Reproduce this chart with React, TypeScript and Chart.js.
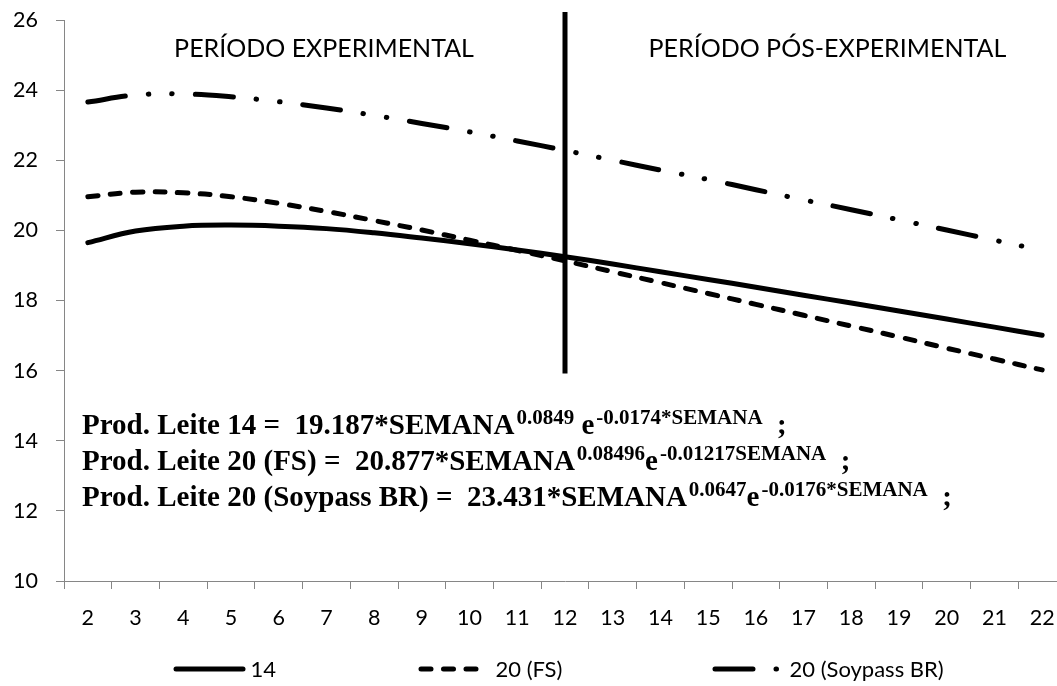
import React, { useEffect, useRef } from 'react';
import { Chart, registerables } from 'chart.js';

Chart.register(...registerables);

// ---- data ----
const WEEKS = ['2', '3', '4', '5', '6', '7', '8', '9', '10', '11', '12', '13', '14', '15', '16', '17', '18', '19', '20', '21', '22'];
const Y_TICKS = [10, 12, 14, 16, 18, 20, 22, 24, 26];

const PROD_14 = [19.65, 19.98, 20.12, 20.15, 20.12, 20.05, 19.93, 19.78, 19.62, 19.44, 19.25, 19.04, 18.82, 18.6, 18.38, 18.15, 17.93, 17.7, 17.47, 17.24, 17.01];
const PROD_20_FS = [20.96, 21.09, 21.07, 20.96, 20.77, 20.54, 20.28, 20.01, 19.72, 19.43, 19.13, 18.82, 18.51, 18.2, 17.89, 17.58, 17.27, 16.96, 16.64, 16.33, 16.02];
const PROD_20_SOY = [23.66, 23.86, 23.89, 23.81, 23.67, 23.49, 23.28, 23.05, 22.81, 22.55, 22.28, 22.0, 21.72, 21.45, 21.16, 20.87, 20.59, 20.3, 20.01, 19.72, 19.43];

const SERIES_LABELS = ['14', '20 (FS)', '20 (Soypass BR)'];

const DIVIDER_WEEK = '12';
const DIVIDER_RANGE = [15.92, 26.23];

const HEADERS = [
  { text: 'PERÍODO EXPERIMENTAL', weekIndex: 4.95, value: 24.95 },
  { text: 'PERÍODO PÓS-EXPERIMENTAL', weekIndex: 15.5, value: 24.95 },
];

type Seg = { t: string; sup?: boolean };
const EQUATIONS: Seg[][] = [
  [{ t: 'Prod. Leite 14 =  19.187*SEMANA' }, { t: '0.0849', sup: true }, { t: ' e' }, { t: '-0.0174*SEMANA', sup: true }, { t: '  ;' }],
  [{ t: 'Prod. Leite 20 (FS) =  20.877*SEMANA' }, { t: '0.08496', sup: true }, { t: 'e' }, { t: '-0.01217SEMANA', sup: true }, { t: '  ;' }],
  [{ t: 'Prod. Leite 20 (Soypass BR) =  23.431*SEMANA' }, { t: '0.0647', sup: true }, { t: 'e' }, { t: '-0.0176*SEMANA', sup: true }, { t: '  ;' }],
];
const EQUATION_BASELINES = [14.2, 13.17, 12.14];

// ---- styles ----
const AXIS_GRAY = '#868686';
const TICK_FONT = { family: 'Lato', size: 21.5 };
const DASHES: number[][] = [[], [10, 12.5], [38, 23, 0.5, 23, 0.5, 23]];
const LINE_W = 5;

const annotationPlugin = {
  id: 'annotations',
  afterDatasetsDraw(chart: any) {
    const { ctx, scales } = chart;
    const x = scales.x;
    const y = scales.y;
    ctx.save();
    // divider
    const dx = x.getPixelForValue(WEEKS.indexOf(DIVIDER_WEEK));
    ctx.strokeStyle = '#000';
    ctx.lineWidth = 5;
    ctx.setLineDash([]);
    ctx.beginPath();
    ctx.moveTo(dx, y.getPixelForValue(DIVIDER_RANGE[1]));
    ctx.lineTo(dx, y.getPixelForValue(DIVIDER_RANGE[0]));
    ctx.stroke();

    // headers
    ctx.fillStyle = '#000';
    ctx.font = '25px Lato';
    ctx.textAlign = 'center';
    ctx.textBaseline = 'alphabetic';
    HEADERS.forEach((h) => {
      ctx.fillText(h.text, x.getPixelForValue(h.weekIndex), y.getPixelForValue(h.value));
    });

    // equations
    ctx.textAlign = 'left';
    const mainFont = 'bold 29px "Liberation Serif"';
    const supFont = 'bold 21px "Liberation Serif"';
    EQUATIONS.forEach((line, i) => {
      let cx = chart.chartArea.left + 18;
      const by = y.getPixelForValue(EQUATION_BASELINES[i]);
      line.forEach((s) => {
        ctx.font = s.sup ? supFont : mainFont;
        if (s.sup) cx += 2;
        ctx.fillText(s.t, cx, s.sup ? by - 10 : by);
        cx += ctx.measureText(s.t).width;
      });
    });
    ctx.restore();
  },
};

const legendPlugin = {
  id: 'customLegend',
  afterDraw(chart: any) {
    const { ctx, chartArea } = chart;
    ctx.save();
    ctx.font = '22px Lato';
    const sample = 72;
    const toText = 77;
    const offsets = [0, 245, 539];
    const totalWidth = 783;
    const start = (chartArea.left + chartArea.right) / 2 - totalWidth / 2;
    const cy = chart.height - 17;
    SERIES_LABELS.forEach((l, i) => {
      const cx = start + offsets[i];
      ctx.strokeStyle = '#000';
      ctx.lineWidth = LINE_W;
      ctx.lineCap = 'round';
      ctx.setLineDash(DASHES[i]);
      ctx.beginPath();
      ctx.moveTo(cx + 2.5, cy);
      ctx.lineTo(cx + sample - 2.5, cy);
      ctx.stroke();
      ctx.setLineDash([]);
      ctx.fillStyle = '#000';
      ctx.textAlign = 'left';
      ctx.textBaseline = 'middle';
      ctx.fillText(l, cx + toText, cy + 1);
    });
    ctx.restore();
  },
};

export default function App() {
  const ref = useRef<HTMLCanvasElement>(null);
  useEffect(() => {
    const series = [PROD_14, PROD_20_FS, PROD_20_SOY];
    const chart = new Chart(ref.current as HTMLCanvasElement, {
      type: 'line',
      data: {
        labels: WEEKS,
        datasets: series.map((d, i) => ({
          label: SERIES_LABELS[i],
          data: d,
          borderColor: '#000',
          backgroundColor: '#000',
          borderWidth: LINE_W,
          borderDash: DASHES[i],
          borderCapStyle: 'round',
          borderJoinStyle: 'round',
          pointRadius: 0,
          tension: 0.4,
          fill: false,
        })),
      },
      options: {
        responsive: false,
        animation: false,
        devicePixelRatio: 1,
        layout: { padding: { top: 20, right: 4, left: 0, bottom: 0 } },
        plugins: { legend: { display: false }, tooltip: { enabled: false } },
        scales: {
          x: {
            type: 'category',
            offset: true,
            grid: { offset: true, drawOnChartArea: false, drawTicks: true, tickLength: 8, color: AXIS_GRAY },
            border: { display: true, color: AXIS_GRAY, width: 1 },
            ticks: { font: TICK_FONT, color: '#000', padding: 16, maxRotation: 0, autoSkip: false },
            afterFit: (s: any) => {
              s.height = 105;
              s.paddingLeft = 0;
              s.paddingRight = 0;
            },
          },
          y: {
            min: Y_TICKS[0],
            max: Y_TICKS[Y_TICKS.length - 1],
            afterBuildTicks: (s: any) => { s.ticks = Y_TICKS.map((v) => ({ value: v })); },
            grid: { drawOnChartArea: false, drawTicks: true, tickLength: 8, color: AXIS_GRAY },
            border: { display: true, color: AXIS_GRAY, width: 1 },
            ticks: { font: TICK_FONT, color: '#000', padding: 18 },
            afterFit: (s: any) => {
              s.width = 64;
              s.paddingTop = 0;
              s.paddingBottom = 0;
            },
          },
        },
      },
      plugins: [annotationPlugin, legendPlugin],
    } as any);
    return () => chart.destroy();
  }, []);
  return (
    <div style={{ position: 'fixed', left: 0, top: 0, width: 1057, height: 686, overflow: 'hidden', background: '#fff' }}>
      <canvas ref={ref} width={1070} height={686} style={{ display: 'block', width: 1070, height: 686 }} />
    </div>
  );
}
